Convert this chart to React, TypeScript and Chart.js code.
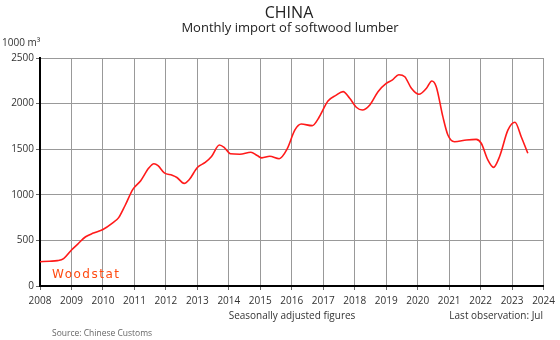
import React, { useEffect, useRef } from "react";
import { Chart, registerables } from "chart.js";

Chart.register(...registerables);

// Decimal year positions of readings (Jan 2008 = 2008.0, Jul 2023 = 2023.5)
const years: number[] = [
  2008.0, 2008.3, 2008.55, 2008.75, 2009.0, 2009.2, 2009.45, 2009.7, 2010.0, 2010.3,
  2010.5, 2010.7, 2010.95, 2011.2, 2011.45, 2011.62, 2011.75, 2011.95, 2012.2, 2012.35,
  2012.58, 2012.75, 2013.0, 2013.25, 2013.45, 2013.7, 2013.85, 2014.05, 2014.35, 2014.7,
  2014.9, 2015.05, 2015.3, 2015.6, 2015.85, 2016.1, 2016.3, 2016.65, 2016.85, 2017.15,
  2017.4, 2017.63, 2017.84, 2018.05, 2018.24, 2018.48, 2018.74, 2019.0, 2019.2, 2019.4,
  2019.59, 2019.8, 2020.04, 2020.28, 2020.45, 2020.59, 2020.8, 2020.96, 2021.17, 2021.55,
  2021.86, 2022.02, 2022.23, 2022.41, 2022.6, 2022.87, 2023.09, 2023.29, 2023.5,
];

// Imports, 1000 m³ (seasonally adjusted)
const imports: number[] = [
  266, 272, 278, 300, 395, 460, 540, 580, 620, 690,
  750, 880, 1060, 1155, 1290, 1340, 1320, 1240, 1215, 1190,
  1125, 1170, 1300, 1355, 1420, 1546, 1520, 1450, 1445, 1466,
  1430, 1405, 1422, 1396, 1500, 1711, 1776, 1758, 1840, 2028,
  2090, 2131, 2058, 1960, 1930, 1985, 2131, 2222, 2260, 2317,
  2295, 2168, 2102, 2168, 2248, 2186, 1857, 1656, 1582, 1601,
  1608, 1565, 1382, 1301, 1418, 1711, 1795, 1637, 1455,
];

const xTickYears: number[] = [2008, 2009, 2010, 2011, 2012, 2013, 2014, 2015, 2016, 2017, 2018, 2019, 2020, 2021, 2022, 2023, 2024];
const yTicks: number[] = [0, 500, 1000, 1500, 2000, 2500];

const titleText = "CHINA";
const subtitleText = "Monthly import of softwood lumber";
const unitText = "1000 m³";
const noteText = "Seasonally adjusted figures";
const lastObsText = "Last observation: Jul";
const sourceText = "Source: Chinese Customs";
const logoText = "Woodstat";

const FONT = "'Open Sans', 'Liberation Sans', sans-serif";

const textPlugin = {
  id: "texts",
  afterDraw(chart: any) {
    const ctx = chart.ctx as CanvasRenderingContext2D;
    ctx.save();
    ctx.textBaseline = "alphabetic";
    ctx.fillStyle = "#222";
    ctx.textAlign = "center";
    ctx.font = `16px ${FONT}`;
    ctx.fillText(titleText, 289, 18);
    ctx.font = `13px ${FONT}`;
    ctx.fillText(subtitleText, 290, 32);
    ctx.textAlign = "left";
    ctx.font = `10px ${FONT}`;
    ctx.fillStyle = "#333";
    ctx.fillText(unitText, 2, 46);
    ctx.textAlign = "center";
    ctx.font = `10px ${FONT}`;
    ctx.fillText(noteText, 292, 319);
    ctx.textAlign = "right";
    ctx.fillText(lastObsText, 543, 319);
    ctx.textAlign = "left";
    ctx.fillStyle = "#666";
    ctx.font = `8.5px ${FONT}`;
    ctx.fillText(sourceText, 52, 336);
    ctx.fillStyle = "#ff4a10";
    ctx.font = `12px 'DejaVu Sans', sans-serif`;
    (ctx as any).letterSpacing = "1.5px";
    ctx.fillText(logoText, 52, 278);
    ctx.restore();
  },
};

export default function App() {
  const ref = useRef<HTMLCanvasElement | null>(null);
  useEffect(() => {
    if (!ref.current) return;
    const chart = new Chart(ref.current, {
      type: "line",
      data: {
        datasets: [
          {
            data: years.map((y, i) => ({ x: y, y: imports[i] })),
            borderColor: "#ff1a1a",
            borderWidth: 1.6,
            pointRadius: 0,
            fill: false,
            cubicInterpolationMode: "monotone",
          },
        ],
      },
      options: {
        responsive: false,
        animation: false,
        events: [],
        layout: { padding: { left: 0, right: 16, top: 58, bottom: 0 } },
        plugins: { legend: { display: false }, tooltip: { enabled: false }, title: { display: false } },
        scales: {
          x: {
            type: "linear",
            min: 2008,
            max: 2024,
            afterBuildTicks: (s: any) => {
              s.ticks = xTickYears.map((v) => ({ value: v }));
            },
            afterFit: (s: any) => {
              s.height = 54;
            },
            ticks: {
              autoSkip: false,
              maxRotation: 0,
              padding: 5,
              color: "#333",
              font: { family: FONT, size: 10 },
              callback: (v: any) => String(v),
            },
            grid: { color: "#999", lineWidth: 1, tickLength: 4, tickColor: "#666" },
            border: { display: true, color: "#000", width: 2 },
          },
          y: {
            min: 0,
            max: 2500,
            afterBuildTicks: (s: any) => {
              s.ticks = yTicks.map((v) => ({ value: v }));
            },
            afterFit: (s: any) => {
              s.width = 40;
            },
            ticks: {
              padding: 2,
              color: "#333",
              font: { family: FONT, size: 10 },
              callback: (v: any) => String(v),
            },
            grid: { color: "#999", lineWidth: 1, tickLength: 4, tickColor: "#666" },
            border: { display: true, color: "#000", width: 2 },
          },
        },
      },
      plugins: [textPlugin],
    } as any);
    return () => chart.destroy();
  }, []);
  return (
    <div style={{ position: "fixed", left: 0, top: 0, width: 560, height: 340, background: "#fff" }}>
      <canvas ref={ref} width={560} height={340} style={{ width: 560, height: 340, display: "block" }} />
    </div>
  );
}
